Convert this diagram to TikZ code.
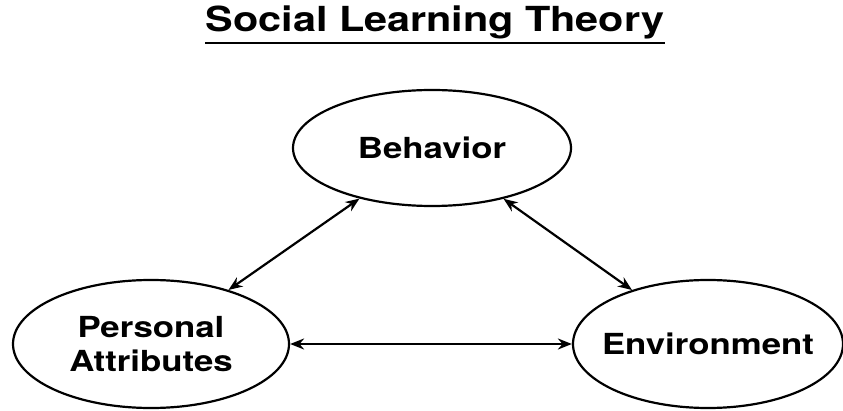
\documentclass[tikz,border=0pt]{standalone}
\usepackage{fontspec}
\setmainfont{TeX Gyre Heros}[FakeStretch=1.2]
\usetikzlibrary{arrows.meta,positioning,shapes.geometric}

\begin{document}
\begin{tikzpicture}[x=1pt,y=1pt,
factor/.style={ellipse, draw=black, line width=2.2pt, inner sep=0pt, align=center, font=\fontsize{29}{34}\selectfont\bfseries},
link/.style={<->, >={Stealth[length=14pt,width=11pt]}, line width=2.2pt},
]
\useasboundingbox (0,0) rectangle (843,410);
%Title
\node[anchor=base, inner sep=0pt] (ttl) at (435,378) {\fontsize{34.5}{40}\selectfont\bfseries Social Learning Theory};
\draw[line width=2pt] ([yshift=-11pt]ttl.base west) -- ([yshift=-11pt]ttl.base east);

%Nodes
\node[factor, minimum width=278, minimum height=116] (beh) at (432,262) {Behavior};
\node[factor, minimum width=276, minimum height=128] (pa)  at (151,66)  {Personal\\Attributes};
\node[factor, minimum width=270, minimum height=128, inner xsep=-15pt] (env) at (708,66) {Environment};

%Lines
\draw[link] (pa) -- (beh);
\draw[link] (beh) -- (env);
\draw[link] (pa) -- (env);
\end{tikzpicture}
\end{document}
